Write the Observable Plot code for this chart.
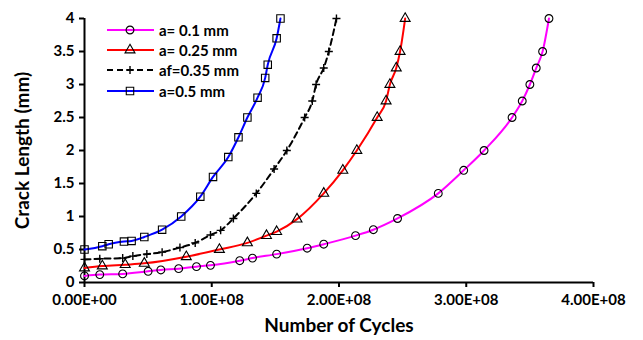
<!DOCTYPE html>
<html><head><meta charset="utf-8">
<script src="https://cdn.jsdelivr.net/npm/d3@7"></script>
<script src="https://cdn.jsdelivr.net/npm/@observablehq/plot@0.6"></script>
<style>
body{margin:0;background:#fff;}
#wrap{position:relative;width:643px;height:340px;font-family:Lato, sans-serif;}
#legend{position:absolute;left:106px;top:20px;}
.item{display:flex;align-items:center;height:20.2px;font-weight:bold;font-size:15px;color:#000;}
.item svg{margin-right:5px;}
</style></head><body><div id="wrap"><div id="legend"></div></div>
<script>
const seriesNames = ["a= 0.1 mm", "a= 0.25 mm", "af=0.35 mm", "a=0.5 mm"];
const seriesColors = ["#FF00FF", "#FF0000", "#000000", "#0000FF"];
const seriesSymbols = ["circle", "triangle", "plus", "square"];
const seriesDash = [null, null, "6,4", null];

const cyclesA010 = [0, 0.12e8, 0.30e8, 0.50e8, 0.60e8, 0.74e8, 0.88e8, 0.99e8, 1.22e8, 1.32e8, 1.51e8, 1.75e8, 1.88e8, 2.13e8, 2.27e8, 2.46e8, 2.78e8, 2.98e8, 3.14e8, 3.36e8, 3.44e8, 3.50e8, 3.55e8, 3.60e8, 3.65e8];
const crackA010  = [0.10, 0.12, 0.13, 0.17, 0.19, 0.21, 0.24, 0.26, 0.33, 0.37, 0.43, 0.52, 0.58, 0.71, 0.80, 0.97, 1.35, 1.70, 2.0, 2.5, 2.75, 3.0, 3.25, 3.5, 4.0];

const cyclesA025 = [0, 0.14e8, 0.32e8, 0.47e8, 0.80e8, 1.06e8, 1.28e8, 1.43e8, 1.51e8, 1.67e8, 1.88e8, 2.03e8, 2.14e8, 2.30e8, 2.37e8, 2.40e8, 2.45e8, 2.48e8, 2.52e8];
const crackA025  = [0.22, 0.25, 0.27, 0.29, 0.39, 0.50, 0.60, 0.71, 0.77, 0.96, 1.35, 1.70, 2.0, 2.5, 2.75, 3.0, 3.25, 3.5, 4.0];

const cyclesAF035 = [0, 0.12e8, 0.30e8, 0.38e8, 0.49e8, 0.61e8, 0.75e8, 0.87e8, 0.99e8, 1.07e8, 1.17e8, 1.35e8, 1.49e8, 1.59e8, 1.73e8, 1.79e8, 1.82e8, 1.88e8, 1.92e8, 1.98e8];
const crackAF035  = [0.35, 0.36, 0.37, 0.40, 0.43, 0.46, 0.53, 0.60, 0.72, 0.79, 0.97, 1.35, 1.72, 2.0, 2.5, 2.75, 3.0, 3.25, 3.5, 4.0];

const cyclesA050 = [0, 0.14e8, 0.19e8, 0.31e8, 0.37e8, 0.47e8, 0.61e8, 0.76e8, 0.91e8, 1.01e8, 1.13e8, 1.21e8, 1.28e8, 1.36e8, 1.42e8, 1.44e8, 1.51e8, 1.54e8];
const crackA050  = [0.5, 0.55, 0.58, 0.62, 0.63, 0.69, 0.80, 1.0, 1.3, 1.6, 1.9, 2.2, 2.5, 2.8, 3.1, 3.3, 3.7, 4.0];

const xTicks = [0, 1e8, 2e8, 3e8, 4e8];
const xTickLabels = ["0.00E+00", "1.00E+08", "2.00E+08", "3.00E+08", "4.00E+08"];
const yTicks = [0, 0.5, 1, 1.5, 2, 2.5, 3, 3.5, 4];
const yTickLabels = ["0", "0.5", "1", "1.5", "2", "2.5", "3", "3.5", "4"];
const xTitle = "Number of Cycles";
const yTitle = "Crack Length (mm)";

const allX = [cyclesA010, cyclesA025, cyclesAF035, cyclesA050];
const allY = [crackA010, crackA025, crackAF035, crackA050];
const symR = {circle: 3.9, triangle: 3.7, plus: 2.7, square: 4.2};

const seriesMarks = [];
allX.forEach((xs, i) => {
  const rows = xs.map((x, j) => ({x, y: allY[i][j]}));
  seriesMarks.push(Plot.line(rows, {x: "x", y: "y", stroke: seriesColors[i], strokeWidth: 2, curve: "monotone-x", strokeDasharray: seriesDash[i] || undefined}));
  seriesMarks.push(Plot.dot(rows, {x: "x", y: "y", symbol: () => seriesSymbols[i], r: symR[seriesSymbols[i]], stroke: "#000", strokeWidth: seriesSymbols[i] === "plus" ? 1.4 : 1.1, fill: "none"}));
});

const chart = Plot.plot({
  width: 643, height: 340,
  marginLeft: 84, marginRight: 50, marginTop: 18, marginBottom: 58,
  x: {domain: [0, 4e8]},
  y: {domain: [0, 4]},
  style: {fontFamily: "Lato, sans-serif", fontWeight: "bold", fontSize: "15px", color: "#000", background: "#fff"},
  marks: [
    Plot.axisX({ticks: xTicks, tickFormat: d => xTickLabels[xTicks.indexOf(d)], tickSize: 5, tickPadding: 7, label: null, strokeWidth: 2}),
    Plot.axisY({ticks: yTicks, tickFormat: d => yTickLabels[yTicks.indexOf(d)], tickSize: 5, tickPadding: 5, label: null, strokeWidth: 2}),
    Plot.ruleY([0], {stroke: "#000", strokeWidth: 2}),
    Plot.ruleX([0], {stroke: "#000", strokeWidth: 2}),
    ...seriesMarks,
    Plot.text([xTitle], {frameAnchor: "bottom", dy: 49, fontSize: 19, fontWeight: "bold", textAnchor: "middle"}),
    Plot.text([yTitle], {frameAnchor: "left", dx: -62, rotate: -90, fontSize: 19, fontWeight: "bold", textAnchor: "middle"})
  ]
});
document.getElementById("wrap").prepend(chart);

const legend = document.getElementById("legend");
seriesNames.forEach((name, i) => {
  const item = document.createElement("div");
  item.className = "item";
  const s = d3.create("svg").attr("width", 48).attr("height", 20);
  s.append("line").attr("x1", 1).attr("x2", 48).attr("y1", 10).attr("y2", 10)
    .attr("stroke", seriesColors[i]).attr("stroke-width", 2)
    .attr("stroke-dasharray", seriesDash[i]);
  const r = symR[seriesSymbols[i]];
  const symType = {circle: d3.symbolCircle, triangle: d3.symbolTriangle, plus: d3.symbolPlus, square: d3.symbolSquare}[seriesSymbols[i]];
  s.append("path").attr("transform", "translate(24,10)")
    .attr("d", d3.symbol(symType, Math.PI * r * r)())
    .attr("fill", "none").attr("stroke", "#000").attr("stroke-width", seriesSymbols[i] === "plus" ? 1.4 : 1.1);
  item.appendChild(s.node());
  const t = document.createElement("span");
  t.textContent = name;
  item.appendChild(t);
  legend.appendChild(item);
});
</script>
</body></html>
